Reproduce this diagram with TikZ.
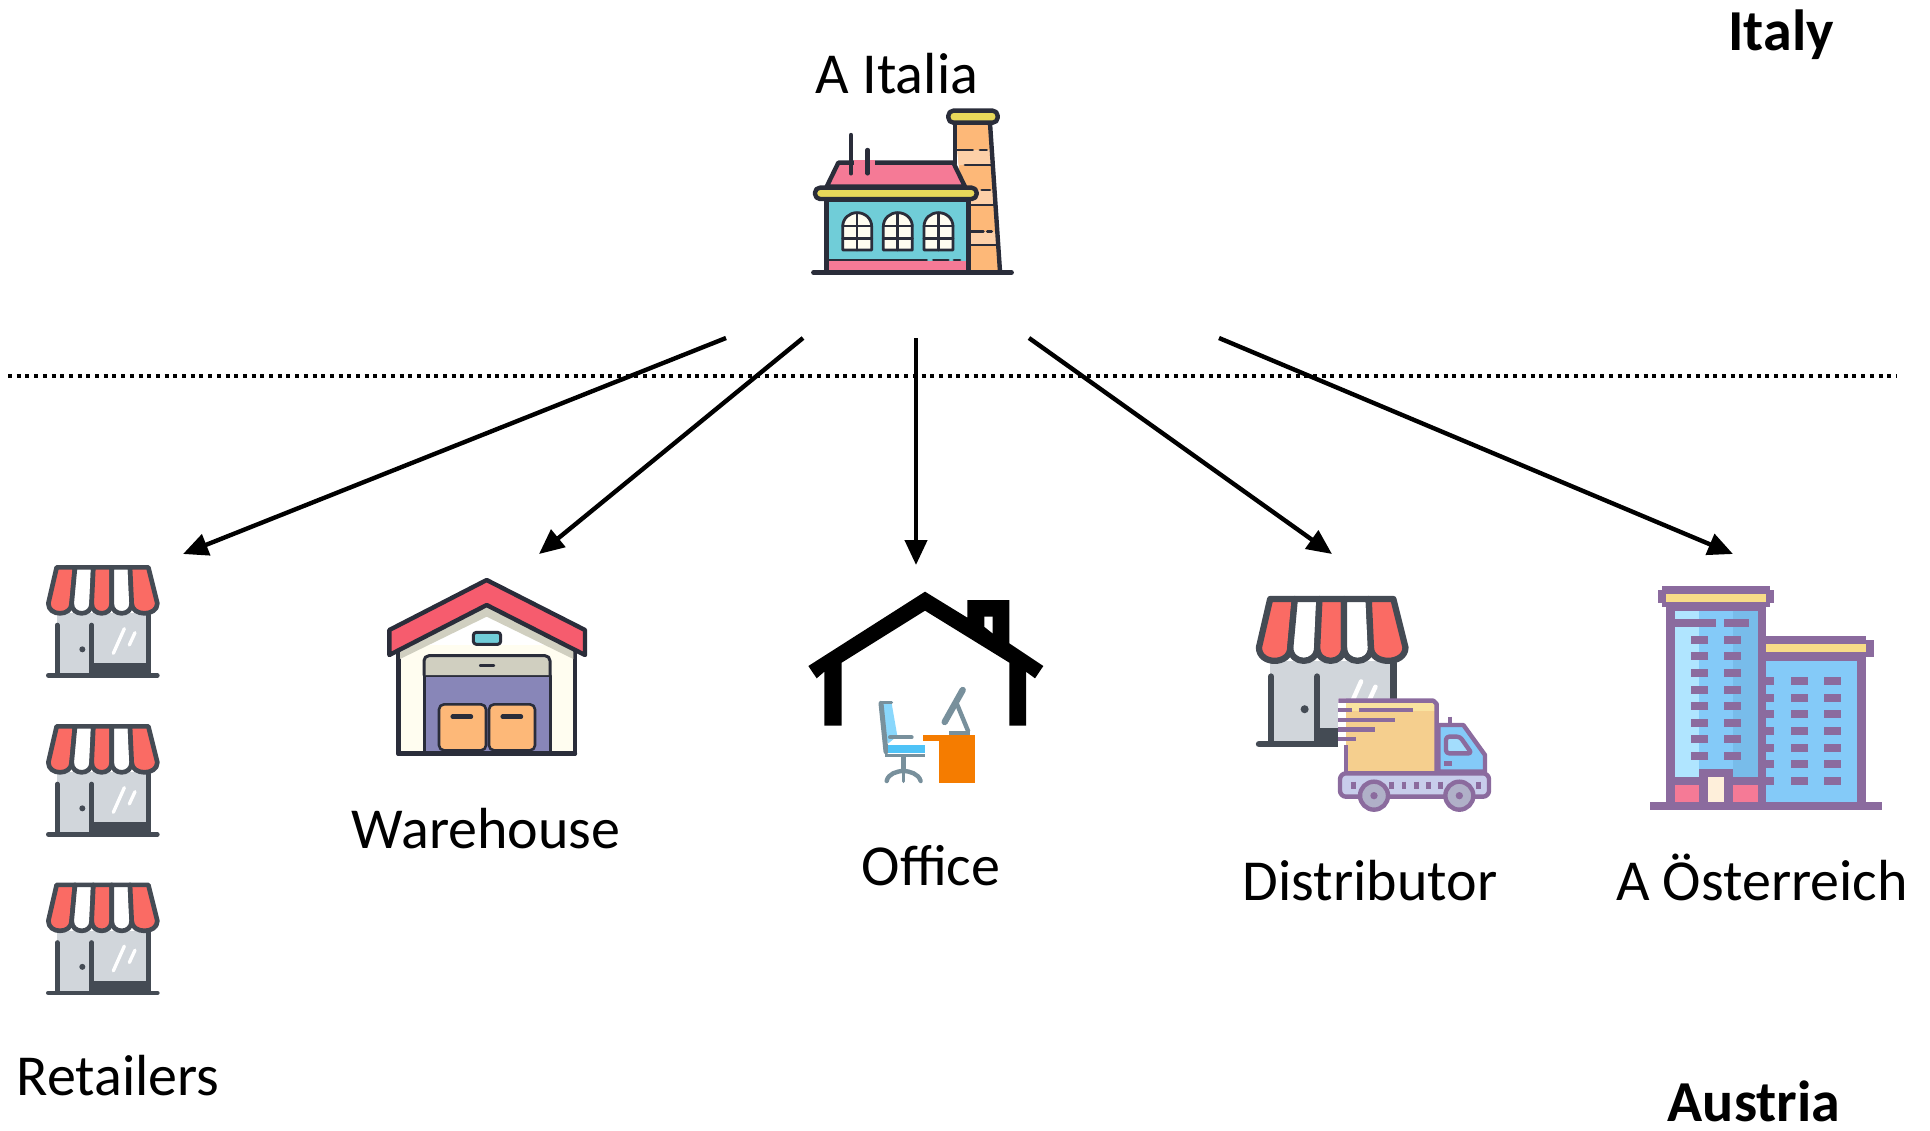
\documentclass[tikz,border=0pt]{standalone}
\usepackage{fontspec}
\setmainfont{Carlito}
\usepackage{xcolor}
\usetikzlibrary{arrows.meta,positioning}

\definecolor{storeink}{RGB}{68, 75, 84}
\definecolor{awning}{RGB}{250, 107, 100}
\definecolor{wall}{RGB}{209, 214, 219}
\definecolor{ink}{RGB}{42, 45, 58}
\definecolor{pinkroof}{RGB}{245, 122, 150}
\definecolor{brick}{RGB}{253, 184, 120}
\definecolor{brickpale}{RGB}{253, 208, 168}
\definecolor{sand}{RGB}{232, 216, 90}
\definecolor{teal}{RGB}{112, 205, 216}
\definecolor{cream}{RGB}{255, 253, 240}
\definecolor{redroof}{RGB}{246, 92, 110}
\definecolor{greige}{RGB}{208, 207, 192}
\definecolor{doorblue}{RGB}{136, 134, 184}
\definecolor{plum}{RGB}{139, 107, 158}
\definecolor{sky}{RGB}{132, 202, 248}
\definecolor{skypale}{RGB}{176, 229, 255}
\definecolor{skydark}{RGB}{120, 188, 234}
\definecolor{butter}{RGB}{248, 220, 136}
\definecolor{cargo}{RGB}{245, 207, 142}
\definecolor{chassis}{RGB}{200, 205, 235}
\definecolor{tyre}{RGB}{176, 176, 200}
\definecolor{chairgray}{RGB}{120, 144, 156}
\definecolor{chairblue}{RGB}{79, 195, 247}
\definecolor{desk}{RGB}{245, 124, 0}

\tikzset{
  lbl/.style={font=\fontsize{29}{34}\selectfont,inner sep=0pt},
  flow/.style={line width=2.2pt,-{Triangle[length=12.5pt,width=11pt]}},
  border/.style={dash pattern=on 2pt off 2.35pt,line width=2pt}
}

% shop front, #1,#2 = corner, #3 = scale
\newcommand{\drawstore}[3]{
\begin{scope}[shift={(#1,#2)},scale=#3,line width=#3*7pt,line join=round,line cap=round,draw=storeink]
\fill [wall] (80,190) rectangle (355,375);
\fill [storeink] (185,340) rectangle (355,378);
\draw [fill=awning] (80,52) -- (55,160) .. controls (55,200) and (125,200) .. (125,160) -- (135,52) -- cycle;
\draw [fill=white] (135,52) -- (125,160) .. controls (125,200) and (185,200) .. (185,160) -- (190,52) -- cycle;
\draw [fill=awning] (190,52) -- (185,160) .. controls (185,200) and (245,200) .. (245,160) -- (245,52) -- cycle;
\draw [fill=white] (245,52) -- (245,160) .. controls (245,200) and (305,200) .. (305,160) -- (300,52) -- cycle;
\draw [fill=awning] (300,52) -- (305,160) .. controls (305,200) and (382,200) .. (382,160) -- (355,52) -- cycle;
\draw (82,225) -- (82,375);
\draw (185,225) -- (185,375);
\draw (355,195) -- (355,375);
\draw (55,376) -- (382,376);
\fill [storeink] (157,298) circle [radius=9];
\draw [white,line width=#3*5pt] (250,310) -- (283,236);
\draw [white,line width=#3*5pt] (298,285) -- (315,248);
\end{scope}
}

\begin{document}
\begin{tikzpicture}[x=0.5pt,y=-0.5pt]
\useasboundingbox (0,0) rectangle (1930,1130);

\node [lbl] (italia) at (897,74) {A Italia};
\node [lbl] (italy) at (1781,35) {\textbf{Italy}};
\node [lbl] (retailers) at (118,1076) {Retailers};
\node [lbl] (warehouse) at (486,829) {Warehouse};
\node [lbl] (office) at (931,866) {Office};
\node [lbl] (distributor) at (1370,881) {Distributor};
\node [lbl] (osterreich) at (1762,877) {A Österreich};
\node [lbl] (austria) at (1754,1101) {\textbf{Austria}};

% factory
\begin{scope}[shift={(780,90)},scale=1/3,line width=2.2pt,line join=round,line cap=round,draw=ink]
\fill [brick] (525,100) -- (630,100) -- (660,545) -- (565,545) -- cycle;
\fill [brickpale] (532,180) -- (635,180) -- (638,225) -- (536,225) -- cycle;
\fill [brickpale] (560,300) -- (643,300) -- (647,345) -- (560,345) -- cycle;
\fill [brickpale] (560,425) -- (652,425) -- (655,465) -- (560,465) -- cycle;
\draw (525,220) -- (525,100);
\draw (630,100) -- (660,545);
\draw [line width=1.4pt] (525,180) -- (578,180) (600,180) -- (620,180);
\draw [line width=1.4pt] (555,225) -- (632,225);
\draw [line width=1.4pt] (605,300) -- (630,300);
\draw [line width=1.4pt] (565,345) -- (640,345);
\draw [line width=1.4pt] (565,425) -- (610,425) (622,425) -- (635,425);
\draw [line width=1.4pt] (565,465) -- (650,465);
\draw [fill=sand,rounded corners=2.5pt] (505,62) rectangle (653,98);
\draw [fill=pinkroof] (140,290) -- (175,218) -- (520,218) -- (555,290) -- cycle;
\fill [pinkroof] (222,210) rectangle (285,228);
\draw (213,135) -- (213,250);
\draw (263,180) -- (263,250);
\draw [fill=teal] (140,330) rectangle (565,545);
\fill [pinkroof] (146,512) rectangle (559,541);
\draw [line width=1.4pt] (146,510) -- (440,510) (460,510) -- (505,510) (522,510) -- (540,510);
\draw [fill=sand,rounded corners=2.5pt] (105,293) rectangle (590,327);
\foreach \wx in {188,310,432}{
\draw [fill=cream,line width=1.4pt] (\wx,480) -- (\wx,410) .. controls (\wx,385) and (\wx+20,368) .. (\wx+43,368) .. controls (\wx+67,368) and (\wx+87,385) .. (\wx+87,410) -- (\wx+87,480) -- cycle;
\draw [line width=1.4pt] (\wx+43,368) -- (\wx+43,480);
\draw [line width=1.4pt] (\wx,408) -- (\wx+87,408);
\draw [line width=1.4pt] (\wx,445) -- (\wx+87,445);
}
\draw (100,548) -- (695,548);
\end{scope}

% retailers
\drawstore{30}{550}{1/3}
\drawstore{30}{709}{1/3}
\drawstore{30}{867.5}{1/3}

% warehouse
\begin{scope}[shift={(370,565)},scale=1/3,line width=2.2pt,line join=round,line cap=round,draw=ink]
\draw [fill=cream] (85,240) -- (85,565) -- (615,565) -- (615,240);
\fill [greige] (350,125) -- (610,258) -- (610,282) -- (350,155) -- (90,282) -- (90,258) -- cycle;
\draw [fill=redroof] (350,45) -- (645,195) -- (645,270) -- (350,120) -- (58,270) -- (58,195) -- cycle;
\draw [fill=teal,rounded corners=1.5pt,line width=1.5pt] (310,202) rectangle (392,238);
\draw [fill=doorblue,line width=1.5pt] (162,330) rectangle (540,565);
\draw [fill=greige,line width=1.5pt,rounded corners=2.5pt] (162,330) -- (162,272) -- (540,272) -- (540,330);
\draw [line width=1.2pt] (330,301) -- (372,301);
\draw [fill=brick,line width=1.3pt,rounded corners=2.5pt] (207,418) rectangle (348,556);
\draw [fill=brick,line width=1.3pt,rounded corners=2.5pt] (357,418) rectangle (495,556);
\draw (248,455) -- (303,455);
\draw (398,455) -- (453,455);
\draw (85,565) -- (615,565);
\end{scope}

% office
\begin{scope}[shift={(790,580)},scale=1/3]
\fill [black] (405,35) -- (532,113) -- (532,60) -- (658,60) -- (658,190) -- (760,258) -- (735,295) -- (708,275) -- (708,437) -- (658,437) -- (658,248) -- (405,92) -- (155,248) -- (155,437) -- (103,437) -- (103,275) -- (80,295) -- (55,258) -- cycle;
\fill [white] (583,110) -- (608,110) -- (608,160) -- (583,140) -- cycle;
\fill [skypale!60!chairblue] (275,370) -- (305,370) -- (322,468) -- (295,490) -- (285,470) -- cycle;
\draw [chairgray,line width=1.5pt,line cap=round] (272,367) -- (305,367);
\draw [chairgray,line width=2.5pt,line cap=round] (273,370) -- (288,515);
\draw [chairgray,line width=2pt,line cap=round] (300,472) -- (365,472);
\fill [chairblue] (295,495) -- (405,495) -- (405,520) -- (295,520) -- cycle;
\draw [chairgray,line width=1.8pt] (285,526) -- (405,526);
\draw [chairgray,line width=2.2pt] (340,526) -- (340,575);
\draw [chairgray,line width=2.2pt,line cap=round] (290,603) .. controls (295,580) and (320,575) .. (340,572) .. controls (360,575) and (385,580) .. (392,603);
\draw [chairgray,line width=1.8pt,line cap=round] (340,575) -- (340,604);
\fill [desk] (398,465) rectangle (556,482);
\fill [desk] (448,465) rectangle (556,610);
\draw [chairgray,line width=3.2pt,line cap=round] (518,330) -- (464,426);
\draw [chairgray,line width=2.2pt] (500,370) -- (535,455);
\fill [chairgray] (478,452) rectangle (540,465);
\end{scope}

% distributor
\drawstore{1234.3}{575.7}{0.448}
\begin{scope}[shift={(1240,585)},scale=1/3,line width=2.2pt,line join=round,draw=plum]
\fill [white] (295,340) rectangle (318,490);
\fill [cargo] (318,352) rectangle (590,560);
\fill [butter!80!white] (318,352) rectangle (588,378);
\draw (295,347) -- (580,347) -- (590,357) -- (590,560);
\draw (318,480) -- (318,560);
\draw (295,375) -- (335,375);
\draw (358,375) -- (520,375);
\draw (295,405) -- (465,405);
\draw (295,433) -- (405,433);
\draw (295,462) -- (348,462);
\draw (630,395) -- (630,420);
\draw [fill=sky] (595,420) -- (670,420) -- (735,510) -- (735,560) -- (595,560) -- cycle;
\draw [fill=skypale!70!sky,rounded corners=1.5pt] (618,455) -- (660,455) -- (695,505) -- (618,505) -- cycle;
\draw (612,535) -- (636,535);
\draw [fill=chassis,rounded corners=3pt] (300,565) rectangle (747,635);
\foreach \tx in {340,455,492,530,565,602,715}{
\draw (\tx,590) -- (\tx,612);
}
\draw [fill=tyre] (402,632) circle [radius=42];
\fill [plum] (402,632) circle [radius=11];
\draw [fill=tyre] (658,632) circle [radius=42];
\fill [plum] (658,632) circle [radius=11];
\end{scope}

% osterreich
\begin{scope}[shift={(1640,575)},scale=1/3]
\fill [plum] (66,33) rectangle (390,95);
\fill [plum] (54,45) rectangle (402,83);
\fill [plum] (78,95) rectangle (378,690);
\fill [butter] (78,57) rectangle (378,82);
\fill [skypale] (105,108) rectangle (177,606);
\fill [sky] (177,108) rectangle (279,606);
\fill [skydark] (279,108) rectangle (354,606);
\fill [plum] (354,183) rectangle (678,690);
\fill [plum] (678,195) rectangle (702,245);
\fill [butter] (378,207) rectangle (678,232);
\fill [sky] (378,258) rectangle (651,681);
\fill [plum] (105,132) rectangle (228,156);
\fill [plum] (252,132) rectangle (327,156);
\foreach \wy in {182,232,282,332,381,431,481,530}{
\fill [plum] (153,\wy) rectangle (204,\wy+24);
\fill [plum] (252,\wy) rectangle (303,\wy+24);
}
\foreach \wy in {306,357,406,456,507,556,606}{
\fill [plum] (378,\wy) rectangle (402,\wy+24);
\fill [plum] (453,\wy) rectangle (504,\wy+24);
\fill [plum] (552,\wy) rectangle (603,\wy+24);
}
\fill [plum] (78,606) rectangle (378,690);
\fill [plum] (177,582) rectangle (279,606);
\fill [pinkroof] (105,630) rectangle (177,681);
\fill [pinkroof] (279,630) rectangle (354,681);
\fill [cream!70!brickpale] (204,606) rectangle (252,681);
\fill [plum] (30,681) rectangle (726,705);
\end{scope}

% arrows
\coordinate (from1) at (726,338);
\coordinate (from2) at (803,338);
\coordinate (from3) at (916,338);
\coordinate (from4) at (1029,338);
\coordinate (from5) at (1219,338);
\coordinate (to1) at (183,554);
\coordinate (to2) at (539,554);
\coordinate (to3) at (916,565);
\coordinate (to4) at (1332,554);
\coordinate (to5) at (1733,554);
\foreach \i in {1,...,5}{
\draw [flow] (from\i) -- (to\i);
}
\coordinate (left) at (8,375.7);
\coordinate (right) at (1897,375.7);
\draw [border] (left) -- (right);
\end{tikzpicture}
\end{document}
